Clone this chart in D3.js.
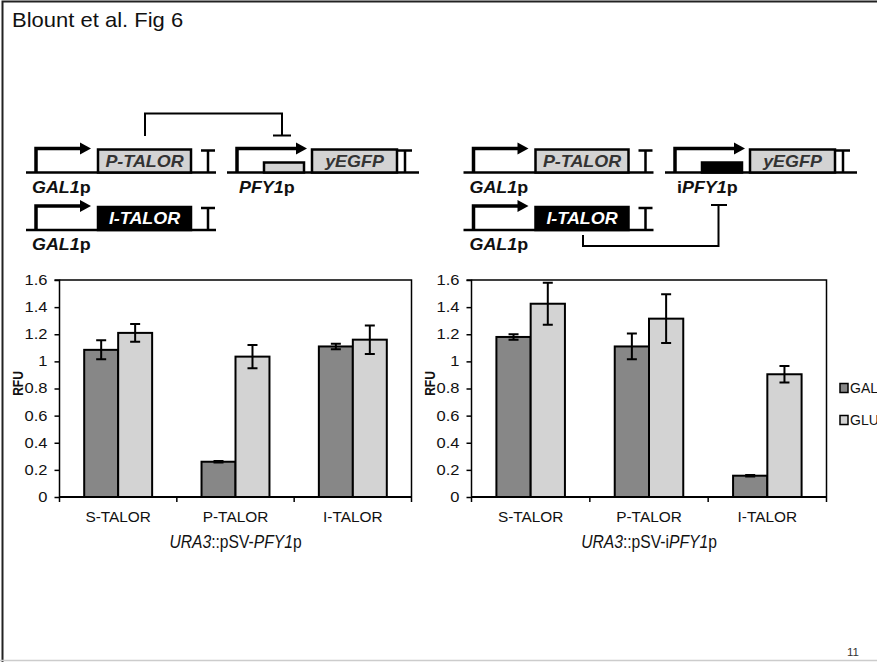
<!DOCTYPE html>
<html>
<head>
<meta charset="utf-8">
<script src="https://cdn.jsdelivr.net/npm/d3@7"></script>
<style>
  html, body { margin: 0; padding: 0; background: #fff; }
  svg { display: block; font-family: "Liberation Sans", Arial, sans-serif; }
</style>
</head>
<body>
<svg id="fig" width="877" height="662"></svg>
<script>
// ---- data ----
const categories = ["S-TALOR", "P-TALOR", "I-TALOR"];
const seriesNames = ["GAL", "GLU"];
const yTicks = [0, 0.2, 0.4, 0.6, 0.8, 1, 1.2, 1.4, 1.6];

// URA3::pSV-PFY1p reporter
const pfyGal = [1.085, 0.26, 1.11];
const pfyGalErr = [0.07, 0.005, 0.02];
const pfyGlu = [1.21, 1.035, 1.16];
const pfyGluErr = [0.065, 0.085, 0.105];

// URA3::pSV-iPFY1p reporter
const ipfyGal = [1.18, 1.11, 0.157];
const ipfyGalErr = [0.02, 0.095, 0.005];
const ipfyGlu = [1.425, 1.315, 0.905];
const ipfyGluErr = [0.155, 0.18, 0.06];

const seriesFill = { GAL: "#878787", GLU: "#d3d3d3" };

const svg = d3.select("#fig");

// text helper: a list of [string, italic, bold] runs, optionally stretched horizontally
function label(parent, x, y, runs, opt) {
  const o = Object.assign({ size: 14, anchor: "start", sx: 1, fill: "#111", bold: false }, opt || {});
  const t = parent.append("text")
    .attr("transform", `translate(${x},${y}) scale(${o.sx},1)`)
    .attr("text-anchor", o.anchor)
    .attr("font-size", o.size)
    .attr("fill", o.fill)
    .attr("font-weight", o.bold ? "bold" : "normal");
  (typeof runs === "string" ? [[runs, false, o.bold]] : runs).forEach(r => {
    t.append("tspan").text(r[0])
      .attr("font-style", r[1] ? "italic" : "normal")
      .attr("font-weight", r[2] ? "bold" : "normal");
  });
  return t;
}

// ---- page frame ----
svg.append("path").attr("d", "M2.5,662V1.5H877").attr("fill", "none")
  .attr("stroke", "#222").attr("stroke-width", 2);
svg.append("line").attr("x1", 0).attr("x2", 877).attr("y1", 660.5).attr("y2", 660.5)
  .attr("stroke", "#ccc").attr("stroke-width", 1.5);
label(svg, 12, 27, "Blount et al. Fig 6", { size: 20, sx: 1.1 });
label(svg, 847, 655.5, "11", { size: 11.5, fill: "#333" });

// ---- construct diagrams ----
const dg = svg.append("g").attr("stroke-linecap", "butt");
const lw = 2.5;

function promoter(g, x0, base, toX) {
  g.append("path").attr("d", `M${x0},${base}V${base - 24}H${toX - 10}`)
    .attr("fill", "none").attr("stroke", "#000").attr("stroke-width", 3.5);
  g.append("path").attr("d", `M${toX - 11},${base - 30}L${toX},${base - 24}L${toX - 11},${base - 18}Z`)
    .attr("fill", "#000");
}
function terminator(g, x, base) {
  g.append("path").attr("d", `M${x},${base}V${base - 22}M${x - 7},${base - 22}H${x + 7}`)
    .attr("fill", "none").attr("stroke", "#000").attr("stroke-width", lw);
}
function box(g, x1, x2, base, h, fill) {
  g.append("rect").attr("x", x1).attr("y", base - h).attr("width", x2 - x1).attr("height", h)
    .attr("fill", fill).attr("stroke", "#000").attr("stroke-width", lw);
}
function baseline(g, x1, x2, base) {
  g.append("line").attr("x1", x1).attr("x2", x2).attr("y1", base).attr("y2", base)
    .attr("stroke", "#000").attr("stroke-width", lw);
}
// GAL1p-driven TALOR unit
function talorUnit(g, x0, base, name, dark) {
  baseline(g, x0 - 10, x0 + 180, base);
  promoter(g, x0, base, x0 + 55);
  box(g, x0 + 62, x0 + 155, base, 23, dark ? "#000" : "#d3d3d3");
  label(g, x0 + 108.5, base - 6, [[name, true, true]],
    { size: 16, anchor: "middle", sx: 1.12, fill: dark ? "#fff" : "#333" });
  terminator(g, x0 + 172, base);
  label(g, x0 - 4, base + 20, [["GAL1", true, true], ["p", false, true]], { size: 16, sx: 1.12 });
}
// yEGFP reporter unit with operator site
function reporterUnit(g, x0, base, opDark, promName) {
  baseline(g, x0 - 10, x0 + 182, base);
  box(g, x0 + 27, x0 + 67, base, 10, opDark ? "#000" : "#d3d3d3");
  promoter(g, x0, base, x0 + 70);
  box(g, x0 + 75, x0 + 160, base, 23, "#d3d3d3");
  label(g, x0 + 117.5, base - 6, [["yEGFP", true, true]], { size: 16, anchor: "middle", sx: 1.12, fill: "#333" });
  terminator(g, x0 + 168, base);
  label(g, x0 + 2, base + 20, promName, { size: 16, sx: 1.12 });
}

talorUnit(dg, 36, 172.5, "P-TALOR", false);
talorUnit(dg, 36, 230, "I-TALOR", true);
reporterUnit(dg, 237, 172.5, false, [["PFY1", true, true], ["p", false, true]]);
dg.append("path").attr("d", "M145,136V113.5H282V135.5M273,135.5H291")
  .attr("fill", "none").attr("stroke", "#000").attr("stroke-width", 2);

talorUnit(dg, 473.5, 172.5, "P-TALOR", false);
talorUnit(dg, 473.5, 230, "I-TALOR", true);
reporterUnit(dg, 675, 172.5, true, [["i", false, true], ["PFY1", true, true], ["p", false, true]]);
dg.append("path").attr("d", "M583,235V246H718.5V205M711,205H727")
  .attr("fill", "none").attr("stroke", "#000").attr("stroke-width", 2);

// ---- bar charts ----
const yTop = 280, yBot = 497;
const y = d3.scaleLinear().domain([0, 1.6]).range([yBot, yTop]);
const fmt = d => String(+d.toFixed(1));

function barChart(left, right, gal, galErr, glu, gluErr, title) {
  const g = svg.append("g");
  const x = d3.scaleBand().domain(categories).range([left, right]).padding(0);
  const xs = d3.scaleBand().domain(seriesNames).range([0, x.bandwidth()])
    .paddingInner(0).paddingOuter(0.727);
  const rows = categories.flatMap((c, i) => [
    { c, s: "GAL", v: gal[i], e: galErr[i] },
    { c, s: "GLU", v: glu[i], e: gluErr[i] }
  ]);

  // frame top / right
  g.append("path").attr("d", `M${left},${yTop}H${right}V${yBot}`)
    .attr("fill", "none").attr("stroke", "#000").attr("stroke-width", 1.5);

  // bars
  g.selectAll("rect.bar").data(rows).join("rect").attr("class", "bar")
    .attr("x", d => x(d.c) + xs(d.s))
    .attr("width", xs.bandwidth())
    .attr("y", d => y(d.v))
    .attr("height", d => y(0) - y(d.v))
    .attr("fill", d => seriesFill[d.s])
    .attr("stroke", "#000").attr("stroke-width", 2);

  // error bars
  const eb = g.selectAll("g.err").data(rows).join("g").attr("class", "err")
    .attr("transform", d => `translate(${x(d.c) + xs(d.s) + xs.bandwidth() / 2},0)`);
  eb.append("path")
    .attr("d", d => `M0,${y(d.v + d.e)}V${y(d.v - d.e)}M-5,${y(d.v + d.e)}H5M-5,${y(d.v - d.e)}H5`)
    .attr("fill", "none").attr("stroke", "#000").attr("stroke-width", 2);

  // y axis
  const ya = g.append("g").attr("transform", `translate(${left},0)`)
    .call(d3.axisLeft(y).tickValues(yTicks).tickFormat(fmt).tickSize(5).tickPadding(7));
  ya.select(".domain").attr("stroke-width", 1.5).attr("d", `M-5,${yTop}H0V${yBot}`);
  ya.selectAll(".tick line").attr("stroke-width", 1.5);
  ya.selectAll(".tick text")
    .attr("font-size", 14).attr("fill", "#111")
    .attr("font-family", "Liberation Sans, Arial, sans-serif")
    .attr("transform", function () {
      const tx = +d3.select(this).attr("x");
      return `translate(${tx},0) scale(1.18,1) translate(${-tx},0)`;
    });

  // x axis: ticks at category boundaries, labels centred in each band
  const xa = g.append("g").attr("transform", `translate(0,${yBot})`)
    .call(d3.axisBottom(x).tickSize(0).tickPadding(15));
  xa.select(".domain").attr("stroke-width", 2).attr("d", `M${left},0H${right}`);
  xa.selectAll(".tick text").attr("font-size", 14).attr("fill", "#111")
    .attr("font-family", "Liberation Sans, Arial, sans-serif")
    .attr("transform", "scale(1.1,1)");
  const bounds = categories.map(c => x(c)).concat([right]);
  g.selectAll("line.sep").data(bounds).join("line").attr("class", "sep")
    .attr("x1", d => d).attr("x2", d => d).attr("y1", yBot).attr("y2", yBot + 5)
    .attr("stroke", "#000").attr("stroke-width", 1.5);

  // axis title
  label(g, 0, 0, "RFU", { size: 12, bold: true, anchor: "middle" })
    .attr("transform", `translate(${left - 36.5},${(yTop + yBot) / 2 - 5}) rotate(-90) scale(1,1.25)`);

  label(g, (left + right) / 2, 548, title, { size: 18, anchor: "middle", sx: 0.87 });
}

barChart(59.5, 411.5, pfyGal, pfyGalErr, pfyGlu, pfyGluErr,
  [["URA3", true, false], ["::pSV-", false, false], ["PFY1", true, false], ["p", false, false]]);
barChart(471.5, 826.5, ipfyGal, ipfyGalErr, ipfyGlu, ipfyGluErr,
  [["URA3", true, false], ["::pSV-i", false, false], ["PFY1", true, false], ["p", false, false]]);

// ---- legend ----
const lg = svg.append("g").selectAll("g").data(seriesNames).join("g")
  .attr("transform", (d, i) => `translate(840,${388 + i * 32})`);
lg.append("rect").attr("x", 0).attr("y", -4.5).attr("width", 8).attr("height", 9)
  .attr("fill", d => seriesFill[d]).attr("stroke", "#000").attr("stroke-width", 1.5);
lg.append("text").attr("x", 10).attr("y", 5).attr("font-size", 14).attr("fill", "#111").text(d => d);
</script>
</body>
</html>
